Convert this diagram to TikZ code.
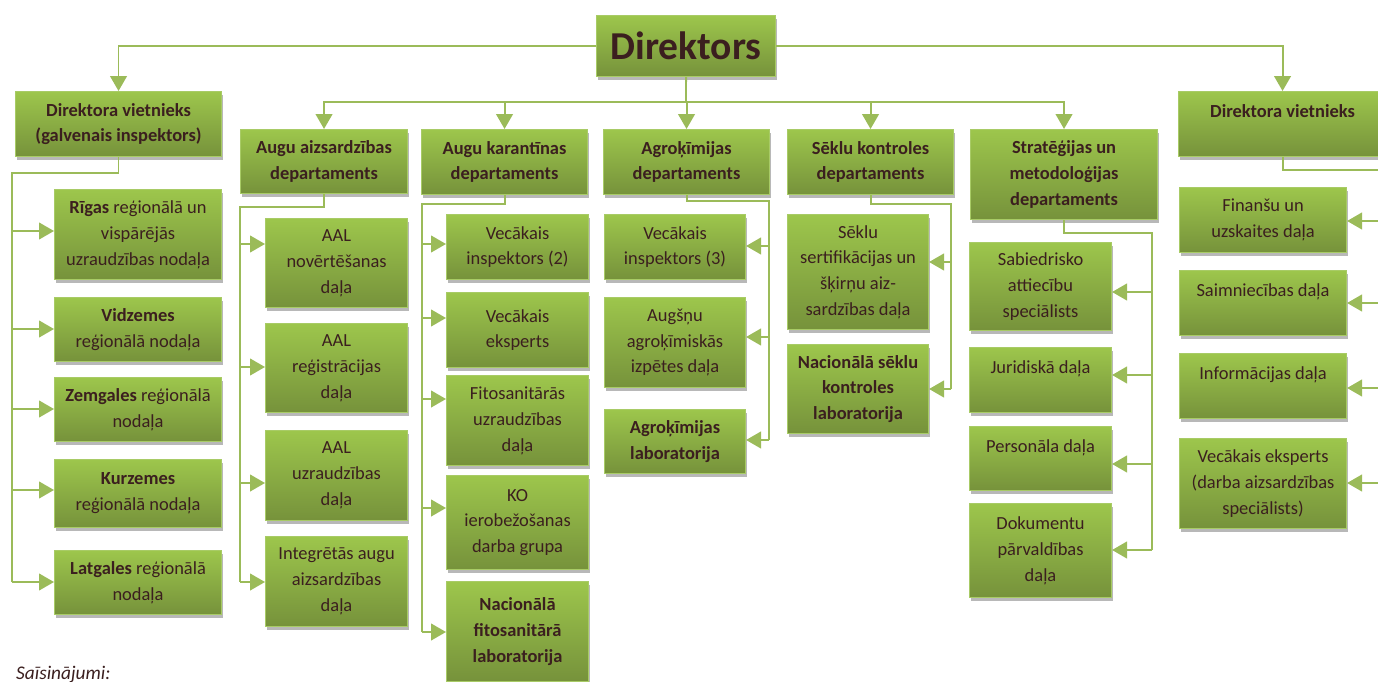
\documentclass[tikz,border=0pt]{standalone}
\usepackage{fontspec}
\setmainfont{Carlito}
\usetikzlibrary{arrows.meta,shadows}
\definecolor{boxtop}{HTML}{9DC64C}
\definecolor{boxbot}{HTML}{76923B}
\definecolor{boxrim}{HTML}{A8CB66}
\definecolor{linkgreen}{HTML}{9BBB59}
\definecolor{ink}{HTML}{3B1F1F}
\tikzset{
	box/.style = {draw=boxrim, line width=0.6pt, top color=boxtop, bottom color=boxbot,
		text=ink, align=center, inner sep=0pt, anchor=north west,
		drop shadow={shadow xshift=0.8pt, shadow yshift=-1.8pt, fill=black, opacity=0.28},
		font=\fontsize{10.5}{14.7}\selectfont},
	head/.style = {box, font=\fontsize{10.5}{14.7}\selectfont\bfseries},
	sz/.style 2 args = {minimum width=#1*0.02cm, minimum height=#2*0.02cm},
	trunk/.style = {draw=linkgreen, line width=1.1pt},
	link/.style = {trunk, -{Triangle[length=8.5pt, width=9.5pt]}}
}

\begin{document}
\begin{tikzpicture}[x=0.02cm, y=-0.02cm]
	\useasboundingbox (0,0) rectangle (1378,682);

	\node[box, sz={179}{61}, font=\fontsize{22.5}{26}\selectfont\bfseries] (dir) at (596,15) {Direktors};
	\node[head, sz={206}{65}] (dv1) at (15,91) {Direktora vietnieks\\(galvenais inspektors)};
	\node[head, sz={208}{65}] (dv2) at (1178,91) {Direktora vietnieks\\\mbox{}};

	\node[head, sz={167}{64}] (aad) at (240,129) {Augu aizsardzības\\departaments};
	\node[head, sz={166}{65}] (akd) at (421,129) {Augu karantīnas\\departaments};
	\node[head, sz={166}{65}] (agd) at (603,129) {Agroķīmijas\\departaments};
	\node[head, sz={166}{65}] (skd) at (787,129) {Sēklu kontroles\\departaments};
	\node[head, sz={187}{90}] (smd) at (970,129) {Stratēģijas un\\metodoloģijas\\departaments};

	\node[box, sz={167}{90}] (rig) at (54,189) {\textbf{Rīgas} reģionālā un\\vispārējās\\uzraudzības nodaļa};
	\node[box, sz={167}{64}] (vid) at (54,297) {\textbf{Vidzemes}\\reģionālā nodaļa};
	\node[box, sz={167}{64}] (zem) at (54,377) {\textbf{Zemgales} reģionālā\\nodaļa};
	\node[box, sz={167}{68}] (kur) at (54,459) {\textbf{Kurzemes}\\reģionālā nodaļa};
	\node[box, sz={167}{64}] (lat) at (54,550) {\textbf{Latgales} reģionālā\\nodaļa};

	\node[box, sz={142}{89}] (anov) at (265,218) {AAL\\novērtēšanas\\daļa};
	\node[box, sz={142}{89}] (areg) at (265,323) {AAL\\reģistrācijas\\daļa};
	\node[box, sz={142}{90}] (auzr) at (265,430) {AAL\\uzraudzības\\daļa};
	\node[box, sz={142}{90}] (aint) at (265,536) {Integrētās augu\\aizsardzības\\daļa};

	\node[box, sz={142}{65}] (vi2) at (446,214) {Vecākais\\inspektors (2)};
	\node[box, sz={142}{75}] (vek) at (446,292) {Vecākais\\eksperts};
	\node[box, sz={142}{90}] (fito) at (446,375) {Fitosanitārās\\uzraudzības\\daļa};
	\node[box, sz={142}{94}] (ko) at (446,475) {KO\\ierobežošanas\\darba grupa};
	\node[head, sz={142}{100}] (nfl) at (446,581) {Nacionālā\\fitosanitārā\\laboratorija};

	\node[box, sz={141}{65}] (vi3) at (604,214) {Vecākais\\inspektors (3)};
	\node[box, sz={141}{90}] (augs) at (604,297) {Augšņu\\agroķīmiskās\\izpētes daļa};
	\node[head, sz={141}{64}] (agl) at (604,409) {Agroķīmijas\\laboratorija};

	\node[box, sz={141}{115}] (sert) at (787,214) {Sēklu\\sertifikācijas un\\šķirņu aiz-\\sardzības daļa};
	\node[head, sz={141}{89}] (nsl) at (787,344) {Nacionālā sēklu\\kontroles\\laboratorija};

	\node[box, sz={142}{88}] (sab) at (969,242) {Sabiedrisko\\attiecību\\speciālists};
	\node[box, sz={142}{65}] (jur) at (969,347) {Juridiskā daļa\\\mbox{}};
	\node[box, sz={142}{64}] (pers) at (969,426) {Personāla daļa\\\mbox{}};
	\node[box, sz={142}{94}] (dok) at (969,503) {Dokumentu\\pārvaldības\\daļa};

	\node[box, sz={167}{65}] (fin) at (1179,187) {Finanšu un\\uzskaites daļa};
	\node[box, sz={167}{65}] (saim) at (1179,270) {Saimniecības daļa\\\mbox{}};
	\node[box, sz={167}{65}] (inf) at (1179,353) {Informācijas daļa\\\mbox{}};
	\node[box, sz={167}{90}] (ve2) at (1179,438) {Vecākais eksperts\\(darba aizsardzības\\speciālists)};

	\node[anchor=base west, text=ink, font=\fontsize{11}{13}\selectfont\itshape] (abbr) at (10,679) {Saīsinājumi:};

	\coordinate (bus) at (686,102);
	\coordinate (dv1t) at (12,173);   \coordinate (dv1e) at (12,582);
	\coordinate (aadt) at (240,207);  \coordinate (aade) at (240,582);
	\coordinate (akdt) at (422,204);  \coordinate (akde) at (422,632);
	\coordinate (agdt) at (769,201);  \coordinate (agde) at (769,440);
	\coordinate (skdt) at (951,204);  \coordinate (skde) at (951,389);
	\coordinate (smdt) at (1152,233); \coordinate (smde) at (1152,550);
	\coordinate (dv2t) at (1392,170); \coordinate (dv2e) at (1392,483);

	\draw[link] (dir.west) -| (dv1.north);
	\draw[link] (dir.east) -| (dv2.north);
	\draw[trunk] (dir.south) -- (bus);
	\foreach \n in {aad,akd,agd,skd,smd}
		\draw[link] (bus) -| (\n.north);

	\draw[trunk] (dv1.south) |- (dv1t) -- (dv1e);
	\draw[trunk] (aad.south) |- (aadt) -- (aade);
	\draw[trunk] (akd.south) |- (akdt) -- (akde);
	\draw[trunk] (agd.south) |- (agdt) -- (agde);
	\draw[trunk] (skd.south) |- (skdt) -- (skde);
	\draw[trunk] (smd.south) |- (smdt) -- (smde);
	\draw[trunk] (dv2.south) |- (dv2t) -- (dv2e);

	\foreach \n/\y in {rig/231, vid/329, zem/409, kur/490, lat/582}
		\draw[link] (dv1t |- 0,\y) -- (\n.west |- 0,\y);
	\foreach \n/\y in {anov/244, areg/367, auzr/483, aint/582}
		\draw[link] (aadt |- 0,\y) -- (\n.west |- 0,\y);
	\foreach \n/\y in {vi2/244, vek/318, fito/399, ko/508, nfl/632}
		\draw[link] (akdt |- 0,\y) -- (\n.west |- 0,\y);
	\foreach \n/\y in {vi3/246, augs/337, agl/440}
		\draw[link] (agdt |- 0,\y) -- (\n.east |- 0,\y);
	\foreach \n/\y in {sert/262, nsl/389}
		\draw[link] (skdt |- 0,\y) -- (\n.east |- 0,\y);
	\foreach \n/\y in {sab/292, jur/375, pers/464, dok/550}
		\draw[link] (smdt |- 0,\y) -- (\n.east |- 0,\y);
	\foreach \n/\y in {fin/221, saim/303, inf/388, ve2/483}
		\draw[link] (dv2t |- 0,\y) -- (\n.east |- 0,\y);
\end{tikzpicture}
\end{document}
